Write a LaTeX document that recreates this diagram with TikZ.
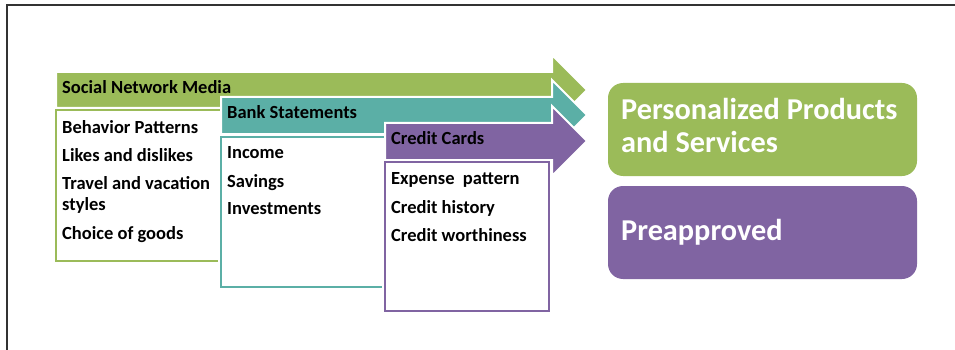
\documentclass[tikz,border=0pt]{standalone}
\usepackage{fontspec}
\setmainfont{Carlito}
\definecolor{cgreen}{HTML}{9BBB59}
\definecolor{cteal}{HTML}{5BAFA6}
\definecolor{cpurple}{HTML}{8064A2}
\definecolor{cframe}{HTML}{333333}
\begin{document}
\begin{tikzpicture}[x=1pt,y=-1pt,
  lbl/.style={inner sep=0pt, anchor=base west, align=left, font=\fontsize{18.5}{21}\selectfont\bfseries, text=black, yshift=-1.5pt},
  big/.style={inner sep=0pt, anchor=base west, align=left, font=\fontsize{30.3}{33}\selectfont\bfseries, text=white},
  arr/.style={draw=white, line width=2pt, line join=miter},
  boxw/.style={draw=white, line width=6pt, fill=white},
  boxc/.style={line width=2.5pt}]
\useasboundingbox (0,0) rectangle (955,350);
% frame
\draw[cframe, line width=2pt] (7,350) -- (7,5) -- (955,5);
% green arrow and box
\filldraw[arr, fill=cgreen] (56,72) -- (552,72) -- (552,55) -- (587,90) -- (552,125) -- (552,108) -- (56,108) -- cycle;
\draw[boxw] (56,110) rectangle (300,261);
\draw[boxc, cgreen] (56,110) rectangle (300,261);
% teal arrow and box
\filldraw[arr, fill=cteal] (221,97) -- (552,97) -- (552,80) -- (587,115) -- (552,150) -- (552,134) -- (221,134) -- cycle;
\draw[boxw] (221,137) rectangle (450,287);
\draw[boxc, cteal] (221,137) rectangle (450,287);
% purple arrow and box
\filldraw[arr, fill=cpurple] (385,123) -- (552,123) -- (552,106) -- (587,141) -- (552,176) -- (552,160) -- (385,160) -- cycle;
\draw[boxw] (385,162) rectangle (549,311);
\draw[boxc, cpurple] (385,162) rectangle (549,311);
% texts
\node[lbl] (snm) at (62,92) {Social Network Media};
\node[lbl] (bp) at (62,132) {Behavior Patterns};
\node[lbl] (ld) at (62,160) {Likes and dislikes};
\node[lbl] (tv) at (62,209) {Travel and vacation\\styles};
\node[lbl] (cg) at (62,238) {Choice of goods};
\node[lbl] (bs) at (227,117) {Bank Statements};
\node[lbl] (inc) at (227,157) {Income};
\node[lbl] (sav) at (227,186) {Savings};
\node[lbl] (inv) at (227,213) {Investments};
\node[lbl] (cc) at (391,143) {Credit Cards};
\node[lbl] (ep) at (391,183) {Expense\ \ pattern};
\node[lbl] (ch) at (391,212) {Credit history};
\node[lbl] (cw) at (391,240) {Credit worthiness};
% right boxes
\fill[cgreen, rounded corners=15pt] (608,83) rectangle (917,176);
\fill[cpurple, rounded corners=15pt] (608,186) rectangle (917,279);
\node[big] (pps) at (621,153) {Personalized Products\\and Services};
\node[big] (pre) at (621,240) {Preapproved};
\end{tikzpicture}
\end{document}
